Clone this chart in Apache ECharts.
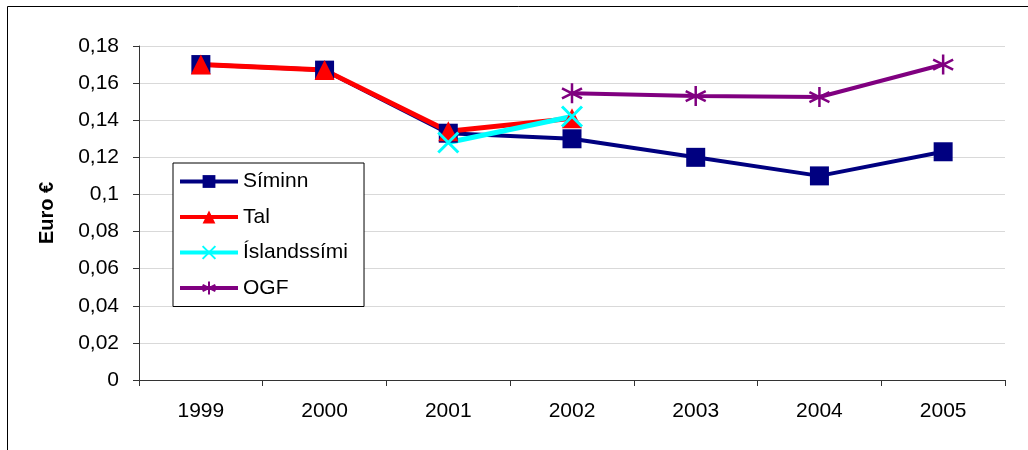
<!DOCTYPE html>
<html>
<head>
<meta charset="utf-8">
<script src="https://cdn.jsdelivr.net/npm/echarts@6/dist/echarts.min.js"></script>
<style>
  html, body { margin: 0; padding: 0; background: #fff; }
  #main { width: 1028px; height: 450px; }
</style>
</head>
<body>
<div id="main"></div>
<script>
// data
var years = ['1999', '2000', '2001', '2002', '2003', '2004', '2005'];
var siminn = [0.170, 0.167, 0.133, 0.130, 0.120, 0.110, 0.123];
var tal = [0.170, 0.167, 0.134, 0.141, null, null, null];
var islandssimi = [null, null, 0.128, 0.142, null, null, null];
var ogf = [null, null, null, 0.1545, 0.153, 0.1525, 0.170];

var font = 'Arial, "Liberation Sans", sans-serif';

// markers
var crossPath = 'path://M0,0 L10,10 M10,0 L0,10';
var starPath = 'path://M5,0 L5,10 M0.7,2.5 L9.3,7.5 M0.7,7.5 L9.3,2.5';

var chart = echarts.init(document.getElementById('main'));

var option = {
    animation: false,
    textStyle: { fontFamily: font },
    graphic: [{
        type: 'rect',
        shape: { x: 7.5, y: 6.5, width: 1100, height: 500 },
        style: { fill: 'none', stroke: '#000', lineWidth: 1 },
        silent: true
    }],
    grid: { left: 139, right: 23, top: 46, bottom: 70 },
    legend: {
        orient: 'vertical',
        left: 173,
        top: 163,
        padding: [8, 16, 8, 5],
        itemWidth: 58,
        itemHeight: 16,
        itemGap: 14.5,
        backgroundColor: '#fff',
        borderColor: '#000',
        borderWidth: 1,
        lineStyle: { width: 4 },
        textStyle: { fontSize: 21, color: '#000', fontFamily: font },
        data: ['Síminn', 'Tal', 'Íslandssími', 'OGF']
    },
    xAxis: {
        type: 'category',
        data: years,
        boundaryGap: true,
        axisLine: { lineStyle: { color: '#333', width: 1 } },
        axisTick: { show: true, length: 6, alignWithLabel: false, lineStyle: { color: '#333' } },
        axisLabel: { fontSize: 21, color: '#000', margin: 21, fontFamily: font },
        splitLine: { show: false }
    },
    yAxis: {
        type: 'value',
        min: 0,
        max: 0.18,
        interval: 0.02,
        name: 'Euro €',
        nameLocation: 'middle',
        nameRotate: 90,
        nameGap: 82,
        nameTextStyle: { fontSize: 20, fontWeight: 'bold', color: '#000', fontFamily: font },
        axisLine: { show: true, lineStyle: { color: '#333', width: 1 } },
        axisTick: { show: true, length: 6, lineStyle: { color: '#333' } },
        axisLabel: {
            fontSize: 21,
            color: '#000',
            margin: 20,
            fontFamily: font,
            formatter: function (v) {
                return String(+v.toFixed(2)).replace('.', ',');
            }
        },
        splitLine: { show: true, lineStyle: { color: '#d9d9d9', width: 1 } }
    },
    series: [
        {
            name: 'Síminn',
            type: 'line',
            data: siminn,
            symbol: 'rect',
            symbolSize: 19,
            color: '#000080',
            lineStyle: { width: 4, color: '#000080' },
            itemStyle: { color: '#000080' }
        },
        {
            name: 'Tal',
            type: 'line',
            data: tal,
            symbol: 'triangle',
            symbolSize: 20,
            color: '#ff0000',
            lineStyle: { width: 5, color: '#ff0000' },
            itemStyle: { color: '#ff0000' }
        },
        {
            name: 'Íslandssími',
            type: 'line',
            data: islandssimi,
            symbol: crossPath,
            symbolSize: 20,
            color: '#00ffff',
            lineStyle: { width: 5, color: '#00ffff' },
            itemStyle: { color: '#00ffff', borderColor: '#00ffff', borderWidth: 3 }
        },
        {
            name: 'OGF',
            type: 'line',
            data: ogf,
            symbol: starPath,
            symbolSize: 20,
            color: '#800080',
            lineStyle: { width: 4, color: '#800080' },
            itemStyle: { color: '#800080', borderColor: '#800080', borderWidth: 2.5 }
        }
    ]
};

chart.setOption(option);
</script>
</body>
</html>
